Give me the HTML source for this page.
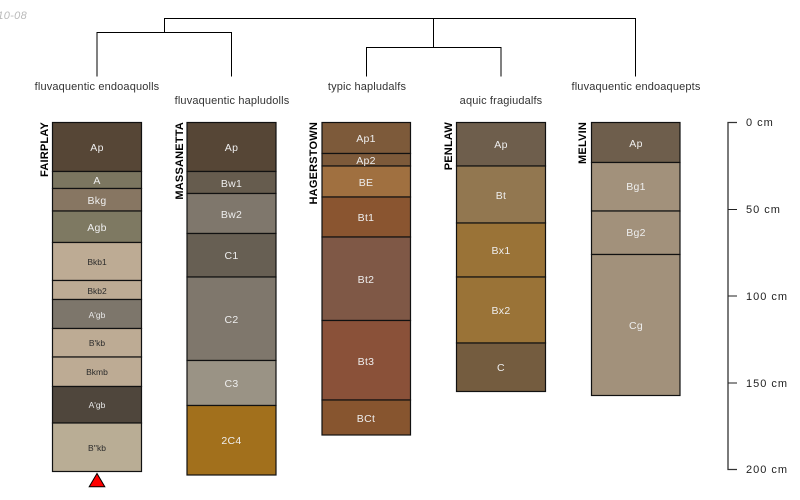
<!DOCTYPE html>
<html><head><meta charset="utf-8"><style>
html,body{margin:0;padding:0;background:#fff}
svg{display:block}
text{font-family:"Liberation Sans",sans-serif}
.t{font-size:11px;letter-spacing:.15px;fill:#333;text-anchor:middle}
.l{font-size:10.5px;letter-spacing:.3px;fill:#eee;text-anchor:middle}
.d{font-size:8.5px;fill:#2c2c2c;text-anchor:middle}
.s{font-size:8.5px;fill:#e8e8e8;text-anchor:middle}
.n{font-size:11px;letter-spacing:.2px;font-weight:bold;fill:#000;text-anchor:end}
.c{font-size:11px;letter-spacing:1px;fill:#222}
.h rect{stroke:#111;stroke-width:1.2}
</style></head><body>
<svg width="800" height="500" viewBox="0 0 800 500" xmlns="http://www.w3.org/2000/svg">
<rect width="800" height="500" fill="#fff"/>
<text x="27" y="19" text-anchor="end" font-size="11" font-style="italic" fill="#bbb" letter-spacing=".3">2010-08</text>
<g fill="none" stroke="#000" stroke-width="1">
<path d="M164.5 33V18.500H635.500V76.500"/>
<path d="M97 76.500V32.500H231.500V76.500"/>
<path d="M433.500 18.500V47.500"/>
<path d="M366.500 76.500V47.500H501V76.500"/>
</g>
<text class="t" x="97" y="90">fluvaquentic endoaquolls</text>
<text class="t" x="232" y="104">fluvaquentic hapludolls</text>
<text class="t" x="367" y="90">typic hapludalfs</text>
<text class="t" x="501" y="104">aquic fragiudalfs</text>
<text class="t" x="636" y="90">fluvaquentic endoaquepts</text>

<text class="n" transform="translate(48,122) rotate(-90)">FAIRPLAY</text>
<text class="n" transform="translate(183,122) rotate(-90)">MASSANETTA</text>
<text class="n" transform="translate(317,122) rotate(-90)">HAGERSTOWN</text>
<text class="n" transform="translate(452,122) rotate(-90)">PENLAW</text>
<text class="n" transform="translate(586,122) rotate(-90)">MELVIN</text>

<g class="h">
<rect x="52.5" y="122.5" width="89" height="49" fill="#564636"/>
<rect x="52.5" y="171.5" width="89" height="17" fill="#7b7660"/>
<rect x="52.5" y="188.5" width="89" height="22.5" fill="#877662"/>
<rect x="52.5" y="211" width="89" height="31.5" fill="#7e7962"/>
<rect x="52.5" y="242.5" width="89" height="38" fill="#bdab94"/>
<rect x="52.5" y="280.5" width="89" height="19" fill="#bdab94"/>
<rect x="52.5" y="299.5" width="89" height="29" fill="#7d766b"/>
<rect x="52.5" y="328.5" width="89" height="28.5" fill="#bdab94"/>
<rect x="52.5" y="357" width="89" height="29.5" fill="#bdab94"/>
<rect x="52.5" y="386.5" width="89" height="36.5" fill="#4f463c"/>
<rect x="52.5" y="423" width="89" height="48.5" fill="#b9ad95"/>

<rect x="187" y="122.5" width="89" height="49" fill="#564636"/>
<rect x="187" y="171.5" width="89" height="22" fill="#665c4e"/>
<rect x="187" y="193.5" width="89" height="40" fill="#7f776c"/>
<rect x="187" y="233.5" width="89" height="43.5" fill="#675f53"/>
<rect x="187" y="277" width="89" height="83.5" fill="#7f776c"/>
<rect x="187" y="360.5" width="89" height="45" fill="#9a9385"/>
<rect x="187" y="405.5" width="89" height="69.5" fill="#a2701c"/>

<rect x="322" y="122.5" width="88.5" height="31" fill="#7d5a3a"/>
<rect x="322" y="153.5" width="88.5" height="12.5" fill="#7d5a3a"/>
<rect x="322" y="166" width="88.5" height="31" fill="#a07040"/>
<rect x="322" y="197" width="88.5" height="40" fill="#8a5530"/>
<rect x="322" y="237" width="88.5" height="83.5" fill="#7f5846"/>
<rect x="322" y="320.5" width="88.5" height="79.5" fill="#8a5139"/>
<rect x="322" y="400" width="88.5" height="35" fill="#87552f"/>

<rect x="456.5" y="122.5" width="89" height="43.5" fill="#6e5e4c"/>
<rect x="456.5" y="166" width="89" height="57" fill="#927750"/>
<rect x="456.5" y="223" width="89" height="54" fill="#9a7337"/>
<rect x="456.5" y="277" width="89" height="66" fill="#9a7337"/>
<rect x="456.5" y="343" width="89" height="48.5" fill="#745c3f"/>

<rect x="591.5" y="122.5" width="88.5" height="40" fill="#6e5e4c"/>
<rect x="591.5" y="162.5" width="88.5" height="48.5" fill="#a2917b"/>
<rect x="591.5" y="211" width="88.5" height="43.5" fill="#a2917b"/>
<rect x="591.5" y="254.5" width="88.5" height="141" fill="#a2917b"/>
</g>

<text class="l" x="97" y="151">Ap</text>
<text class="l" x="97" y="184">A</text>
<text class="l" x="97" y="204">Bkg</text>
<text class="l" x="97" y="231">Agb</text>
<text class="d" x="97" y="265">Bkb1</text>
<text class="d" x="97" y="294">Bkb2</text>
<text class="s" x="97" y="318">A'gb</text>
<text class="d" x="97" y="346">B'kb</text>
<text class="d" x="97" y="375">Bkmb</text>
<text class="s" x="97" y="408">A'gb</text>
<text class="d" x="97" y="451">B''kb</text>

<text class="l" x="231.5" y="151">Ap</text>
<text class="l" x="231.5" y="187">Bw1</text>
<text class="l" x="231.5" y="218">Bw2</text>
<text class="l" x="231.5" y="259">C1</text>
<text class="l" x="231.5" y="323">C2</text>
<text class="l" x="231.5" y="387">C3</text>
<text class="l" x="231.5" y="444">2C4</text>

<text class="l" x="366" y="142">Ap1</text>
<text class="l" x="366" y="164">Ap2</text>
<text class="l" x="366" y="186">BE</text>
<text class="l" x="366" y="221">Bt1</text>
<text class="l" x="366" y="283">Bt2</text>
<text class="l" x="366" y="365">Bt3</text>
<text class="l" x="366" y="422">BCt</text>

<text class="l" x="501" y="148">Ap</text>
<text class="l" x="501" y="199">Bt</text>
<text class="l" x="501" y="254">Bx1</text>
<text class="l" x="501" y="314">Bx2</text>
<text class="l" x="501" y="371">C</text>

<text class="l" x="636" y="147">Ap</text>
<text class="l" x="636" y="190">Bg1</text>
<text class="l" x="636" y="236">Bg2</text>
<text class="l" x="636" y="329">Cg</text>

<polygon points="97,473.5 89.2,486.8 104.8,486.8" fill="#f00" stroke="#000" stroke-width="1"/>

<g fill="none" stroke="#222" stroke-width="1">
<path d="M737 122.500H728V469.500H737" stroke="#333" stroke-width="1.3"/>
<path d="M728 209.500H737M728 296H737M728 383H737"/>
</g>
<text class="c" x="746" y="126">0 cm</text>
<text class="c" x="746" y="213">50 cm</text>
<text class="c" x="746" y="300">100 cm</text>
<text class="c" x="746" y="387">150 cm</text>
<text class="c" x="746" y="473">200 cm</text>
</svg>
</body></html>
